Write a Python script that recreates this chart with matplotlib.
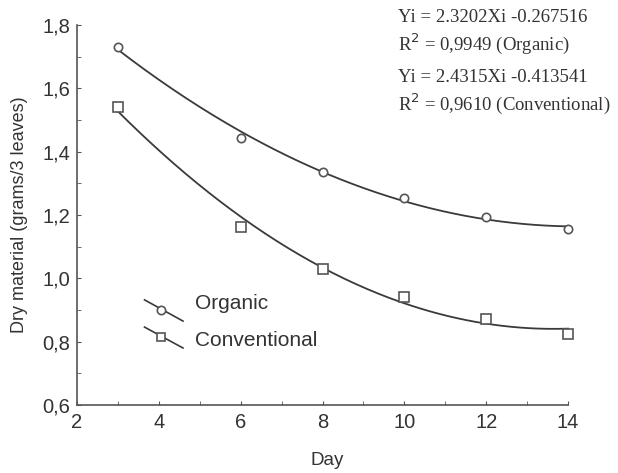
import matplotlib
matplotlib.use('Agg')
import matplotlib.pyplot as plt
from matplotlib.ticker import FuncFormatter, MultipleLocator
from matplotlib.lines import Line2D
import numpy as np

# values
days = [3, 6, 8, 10, 12, 14]
organic = [1.731, 1.444, 1.336, 1.255, 1.195, 1.155]
conventional = [1.542, 1.163, 1.030, 0.942, 0.873, 0.825]

eq_organic = ['Yi = 2.3202Xi -0.267516', 'R$^2$ = 0,9949 (Organic)']
eq_conv = ['Yi = 2.4315Xi -0.413541', 'R$^2$ = 0,9610 (Conventional)']

plt.rcParams['font.family'] = ['Liberation Sans', 'DejaVu Sans']
col = '#3a3a3a'

fig = plt.figure(figsize=(6.18, 4.73), dpi=100)
ax = fig.add_axes([0.1246, 0.1438, 0.7945, 0.8033])

xs = np.linspace(min(days), max(days), 200)
for vals, mk in [(organic, 'o'), (conventional, 's')]:
    fit = np.polyfit(days, vals, 2)
    ax.plot(xs, np.polyval(fit, xs), color=col, lw=1.3, clip_on=False)
    ax.plot(days, vals, mk, ms=6 if mk == 'o' else 6.5, mfc='white', mec='#555555', mew=1.2,
            ls='none', clip_on=False)

ax.set_xlim(2, 14)
ax.set_ylim(0.6, 1.8)
ax.xaxis.set_major_locator(MultipleLocator(2))
ax.xaxis.set_minor_locator(MultipleLocator(1))
ax.yaxis.set_major_locator(MultipleLocator(0.2))
ax.yaxis.set_minor_locator(MultipleLocator(0.1))
ax.yaxis.set_major_formatter(FuncFormatter(lambda v, p: ('%.1f' % v).replace('.', ',')))
for s in ['top', 'right']:
    ax.spines[s].set_visible(False)
for s in ['left', 'bottom']:
    ax.spines[s].set_color('#555555')
    ax.spines[s].set_linewidth(1.2)
ax.tick_params(which='both', direction='in', length=3, color='#555555', labelsize=14.5,
               labelcolor='#333333')
ax.tick_params(axis='x', pad=6)
ax.tick_params(axis='y', pad=5)
ax.set_xlabel('Day', fontsize=13.5, color='#333333')
ax.set_ylabel('Dry material (grams/3 leaves)', fontsize=13, color='#333333')
ax.xaxis.set_label_coords(0.51, -0.125)
ax.yaxis.set_label_coords(-0.099, 0.5)

# hand-drawn style legend with slanted handles
leg = [('Organic', 'o', 0.932, 0.865, 0.899, 0.922),
       ('Conventional', 's', 0.846, 0.780, 0.815, 0.805)]
for lab, mk, y0, y1, ym, yt in leg:
    ax.add_line(Line2D([3.65, 4.59], [y0, y1], color=col, lw=1.2))
    ax.plot([4.05], [ym], mk, ms=6, mfc='white', mec='#555555', mew=1.2)
    ax.text(4.88, yt, lab, fontsize=15, color='#333333', va='center')

for j, lines in enumerate([eq_organic, eq_conv]):
    for k, t in enumerate(lines):
        fig.text(0.644, 1 - (18 + j * 60 + k * 26) / 473, t, fontsize=13.5,
                 family=['Liberation Serif', 'DejaVu Serif'], color='#333333', va='center')

fig.savefig('out.png', dpi=100)
